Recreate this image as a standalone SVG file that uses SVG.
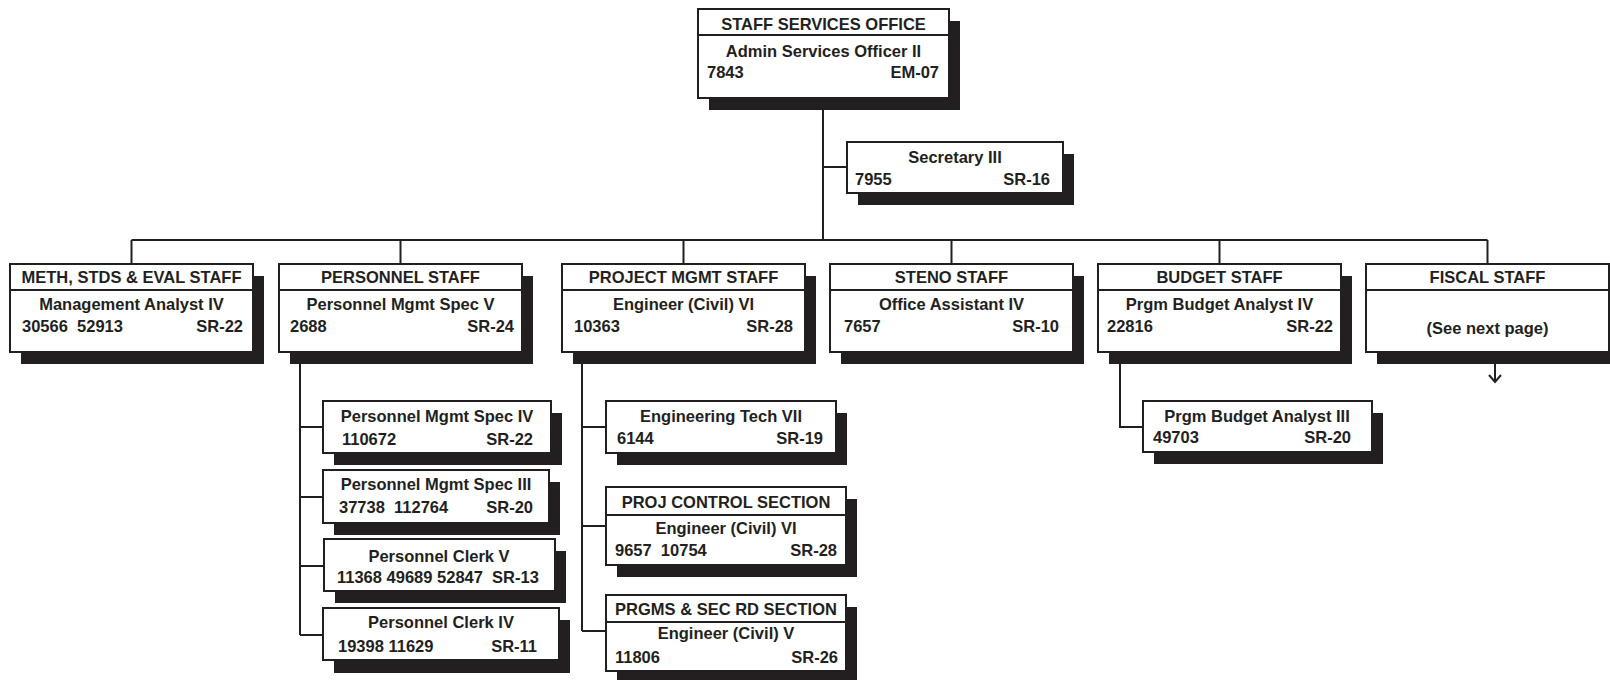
<svg xmlns="http://www.w3.org/2000/svg" width="1610" height="680" viewBox="0 0 1610 680">
<style>
.box{fill:#fff;stroke:#231f20;stroke-width:2}
.sh{fill:#231f20}
.dv{stroke:#231f20;stroke-width:2}
.ln{stroke:#231f20;stroke-width:2;fill:none}
.t{font-family:"Liberation Sans",Arial,Helvetica,sans-serif;font-weight:bold;font-size:16.5px;fill:#231f20}
.c{text-anchor:middle}
.e{text-anchor:end}
</style>
<rect width="1610" height="680" fill="#fff"/>
<g id="connectors">
<path class="ln" d="M823,98 V240 M823,167 H847 M131.5,240 H1487.5"/>
<path class="ln" d="M131.5,240 V264 M400.5,240 V264 M683.5,240 V264 M951.5,240 V264 M1219.5,240 V264 M1487.5,240 V264"/>
<path class="ln" d="M300,352 V635 M300,427 H323 M300,497 H323 M300,566 H324 M300,635 H323"/>
<path class="ln" d="M582,352 V631 M582,427 H606 M582,526 H606 M582,631 H606"/>
<path class="ln" d="M1120,352 V427 H1143"/>
<path class="ln" d="M1495,364 V382 M1489,375 L1495,382 L1501,375"/>
</g>
<g id="staff-services-office">
<rect class="sh" x="709" y="21" width="251" height="89"/>
<rect class="box" x="698" y="9" width="251" height="89"/>
<line class="dv" x1="698" y1="35" x2="949" y2="35"/>
<text class="t c" x="823.5" y="29.5">STAFF SERVICES OFFICE</text>
<text class="t c" x="823.5" y="57">Admin Services Officer II</text>
<text class="t" x="707" y="78">7843</text>
<text class="t e" x="939" y="78">EM-07</text>
</g>
<g id="secretary">
<rect class="sh" x="858" y="154" width="216" height="51"/>
<rect class="box" x="847" y="142" width="216" height="51"/>
<text class="t c" x="955" y="163">Secretary III</text>
<text class="t" x="855" y="185">7955</text>
<text class="t e" x="1050" y="185">SR-16</text>
</g>
<g id="meth-staff">
<rect class="sh" x="21" y="276" width="243" height="88"/>
<rect class="box" x="10" y="264" width="243" height="88"/>
<line class="dv" x1="10" y1="290" x2="253" y2="290"/>
<text class="t c" x="131.5" y="283">METH, STDS &amp; EVAL STAFF</text>
<text class="t c" x="131.5" y="310">Management Analyst IV</text>
<text class="t" x="22" y="332" xml:space="preserve">30566  52913</text>
<text class="t e" x="243" y="332">SR-22</text>
</g>
<g id="personnel-staff">
<rect class="sh" x="290" y="276" width="243" height="88"/>
<rect class="box" x="279" y="264" width="243" height="88"/>
<line class="dv" x1="279" y1="290" x2="522" y2="290"/>
<text class="t c" x="400.5" y="283">PERSONNEL STAFF</text>
<text class="t c" x="400.5" y="310">Personnel Mgmt Spec V</text>
<text class="t" x="290" y="332">2688</text>
<text class="t e" x="514" y="332">SR-24</text>
</g>
<g id="project-mgmt-staff">
<rect class="sh" x="573" y="276" width="243" height="88"/>
<rect class="box" x="562" y="264" width="243" height="88"/>
<line class="dv" x1="562" y1="290" x2="805" y2="290"/>
<text class="t c" x="683.5" y="283">PROJECT MGMT STAFF</text>
<text class="t c" x="683.5" y="310">Engineer (Civil) VI</text>
<text class="t" x="574" y="332">10363</text>
<text class="t e" x="793" y="332">SR-28</text>
</g>
<g id="steno-staff">
<rect class="sh" x="841" y="276" width="243" height="88"/>
<rect class="box" x="830" y="264" width="243" height="88"/>
<line class="dv" x1="830" y1="290" x2="1073" y2="290"/>
<text class="t c" x="951.5" y="283">STENO STAFF</text>
<text class="t c" x="951.5" y="310">Office Assistant IV</text>
<text class="t" x="844" y="332">7657</text>
<text class="t e" x="1059" y="332">SR-10</text>
</g>
<g id="budget-staff">
<rect class="sh" x="1109" y="276" width="243" height="88"/>
<rect class="box" x="1098" y="264" width="243" height="88"/>
<line class="dv" x1="1098" y1="290" x2="1341" y2="290"/>
<text class="t c" x="1219.5" y="283">BUDGET STAFF</text>
<text class="t c" x="1219.5" y="310">Prgm Budget Analyst IV</text>
<text class="t" x="1107" y="332">22816</text>
<text class="t e" x="1333" y="332">SR-22</text>
</g>
<g id="fiscal-staff">
<rect class="sh" x="1377" y="276" width="243" height="88"/>
<rect class="box" x="1366" y="264" width="243" height="88"/>
<line class="dv" x1="1366" y1="290" x2="1609" y2="290"/>
<text class="t c" x="1487.5" y="283">FISCAL STAFF</text>
<text class="t c" x="1487.5" y="334">(See next page)</text>
</g>
<g id="pms-iv">
<rect class="sh" x="334" y="413" width="228" height="52"/>
<rect class="box" x="323" y="401" width="228" height="52"/>
<text class="t c" x="437" y="422">Personnel Mgmt Spec IV</text>
<text class="t" x="342" y="445">110672</text>
<text class="t e" x="533" y="445">SR-22</text>
</g>
<g id="pms-iii">
<rect class="sh" x="334" y="482" width="226" height="53"/>
<rect class="box" x="323" y="470" width="226" height="53"/>
<text class="t c" x="436" y="490">Personnel Mgmt Spec III</text>
<text class="t" x="339" y="513" xml:space="preserve">37738  112764</text>
<text class="t e" x="533" y="513">SR-20</text>
</g>
<g id="clerk-v">
<rect class="sh" x="335" y="551" width="231" height="52"/>
<rect class="box" x="324" y="539" width="231" height="52"/>
<text class="t c" x="439" y="562">Personnel Clerk V</text>
<text class="t" x="337" y="583" xml:space="preserve">11368 49689 52847  SR-13</text>
</g>
<g id="clerk-iv">
<rect class="sh" x="334" y="620" width="236" height="53"/>
<rect class="box" x="323" y="608" width="236" height="52"/>
<text class="t c" x="441" y="628">Personnel Clerk IV</text>
<text class="t" x="338" y="652">19398 11629</text>
<text class="t e" x="537" y="652">SR-11</text>
</g>
<g id="eng-tech-vii">
<rect class="sh" x="617" y="413" width="230" height="52"/>
<rect class="box" x="606" y="401" width="230" height="52"/>
<text class="t c" x="721" y="422">Engineering Tech VII</text>
<text class="t" x="617" y="444">6144</text>
<text class="t e" x="823" y="444">SR-19</text>
</g>
<g id="proj-control-section">
<rect class="sh" x="617" y="499" width="240" height="78"/>
<rect class="box" x="606" y="487" width="240" height="78"/>
<line class="dv" x1="606" y1="515" x2="846" y2="515"/>
<text class="t c" x="726" y="508">PROJ CONTROL SECTION</text>
<text class="t c" x="726" y="534">Engineer (Civil) VI</text>
<text class="t" x="615" y="556" xml:space="preserve">9657  10754</text>
<text class="t e" x="837" y="556">SR-28</text>
</g>
<g id="prgms-sec-rd-section">
<rect class="sh" x="617" y="607" width="240" height="76"/>
<rect class="box" x="606" y="595" width="240" height="76"/>
<line class="dv" x1="606" y1="622" x2="846" y2="622"/>
<text class="t c" x="726" y="615">PRGMS &amp; SEC RD SECTION</text>
<text class="t c" x="726" y="639">Engineer (Civil) V</text>
<text class="t" x="615" y="663">11806</text>
<text class="t e" x="838" y="663">SR-26</text>
</g>
<g id="prgm-budget-analyst-iii">
<rect class="sh" x="1154" y="413" width="229" height="51"/>
<rect class="box" x="1143" y="401" width="229" height="51"/>
<text class="t c" x="1257" y="422">Prgm Budget Analyst III</text>
<text class="t" x="1153" y="443">49703</text>
<text class="t e" x="1351" y="443">SR-20</text>
</g>
</svg>
